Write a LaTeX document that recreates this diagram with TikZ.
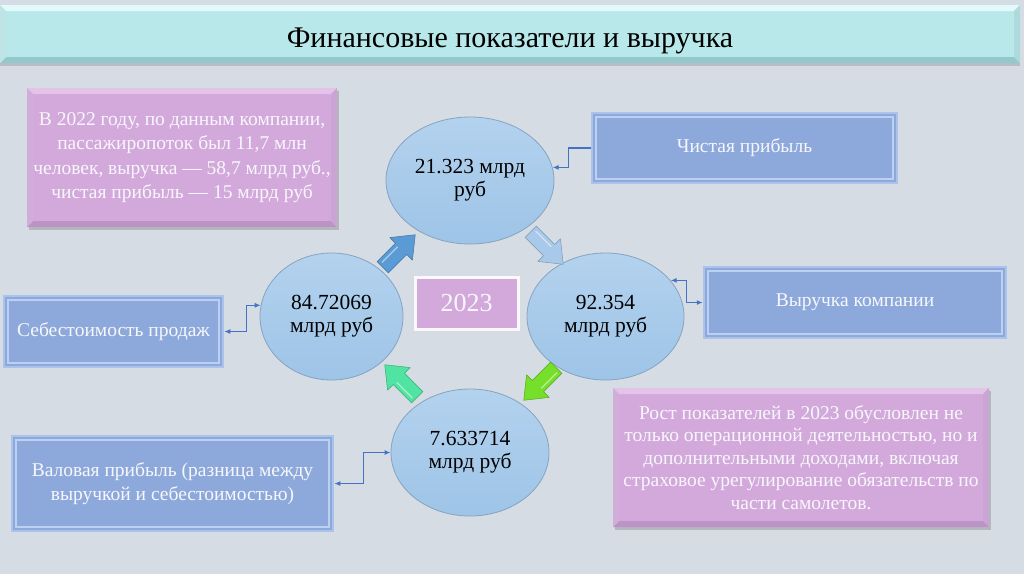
\documentclass[tikz,border=0pt]{standalone}
\usepackage{fontspec}
\setmainfont{Liberation Serif}
\usetikzlibrary{shapes.geometric,arrows.meta,shadows,calc}
\definecolor{bgc}{HTML}{D6DCE4}
\definecolor{titlec}{HTML}{B9E8EA}
\definecolor{titlelight}{HTML}{E2FAFA}
\definecolor{titledark}{HTML}{93C9CD}
\definecolor{pinkc}{HTML}{D3A9DC}
\definecolor{pinklight}{HTML}{E3C3EA}
\definecolor{pinkdark}{HTML}{BC93C5}
\definecolor{blueboxc}{HTML}{8DA9DB}
\definecolor{blueframe}{HTML}{ABC3EC}
\definecolor{blueinner}{HTML}{BCD0F1}
\definecolor{circc}{HTML}{9EC4E7}
\definecolor{circlight}{HTML}{B3D2EE}
\definecolor{circedge}{HTML}{86A3C0}
\definecolor{connc}{HTML}{4472C4}
\definecolor{arrblue}{HTML}{5B9BD5}
\definecolor{arrlight}{HTML}{A8C9E9}
\definecolor{arrgreen}{HTML}{76DF2A}
\definecolor{arrteal}{HTML}{50E3A2}
\definecolor{whitetext}{HTML}{F7F7FB}
\begin{document}
\begin{tikzpicture}[x=1pt,y=-1pt,
  bevel/.style n args={3}{path picture={
    \path (path picture bounding box.north west) coordinate (bvA)
          (path picture bounding box.north east) coordinate (bvB)
          (path picture bounding box.south east) coordinate (bvC)
          (path picture bounding box.south west) coordinate (bvD);
    \fill[#2] (bvA) -- (bvB) -- ([shift={(-#1pt,-#1pt)}]bvB) -- ([shift={(#1pt,-#1pt)}]bvA) -- cycle;
    \fill[#3] (bvD) -- (bvC) -- ([shift={(-#1pt,#1pt)}]bvC) -- ([shift={(#1pt,#1pt)}]bvD) -- cycle;
    \fill[#2!55!#3] (bvA) -- (bvD) -- ([shift={(#1pt,#1pt)}]bvD) -- ([shift={(#1pt,-#1pt)}]bvA) -- cycle;
    \fill[#2!35!#3] (bvB) -- (bvC) -- ([shift={(-#1pt,#1pt)}]bvC) -- ([shift={(-#1pt,-#1pt)}]bvB) -- cycle;
  }},
  innerframe/.style={path picture={
    \draw[blueinner,line width=1.6pt]
      ([shift={(4pt,-4pt)}]path picture bounding box.north west) rectangle
      ([shift={(-4pt,4pt)}]path picture bounding box.south east);
  }},
  titlebar/.style={rectangle, fill=titlec, minimum width=1020pt, minimum height=58pt,
    inner sep=0pt, font=\fontsize{30}{33}\selectfont, text=black,
    text height=27pt, text depth=0pt,
    bevel={6}{titlelight}{titledark},
    drop shadow={shadow xshift=0pt, shadow yshift=-3pt, opacity=0.25, fill=black!60}},
  pinkbox/.style={rectangle, fill=pinkc, inner sep=0pt, align=center, text=whitetext,
    bevel={6}{pinklight}{pinkdark},
    drop shadow={shadow xshift=2pt, shadow yshift=-3pt, opacity=0.3, fill=black!60}},
  bluebox/.style={rectangle, fill=blueboxc, draw=blueframe, line width=2.5pt, inner sep=0pt,
    align=center, text=whitetext, font=\fontsize{19.5}{24}\selectfont, innerframe},
  circnode/.style={ellipse, top color=circlight, bottom color=circc, draw=circedge,
    line width=0.8pt, inner sep=0pt, align=center, text=black,
    font=\fontsize{21.5}{23}\selectfont},
  yearbox/.style={rectangle, fill=pinkc, draw=white!92!pinkc, line width=3pt, inner sep=0pt,
    text=whitetext, font=\fontsize{26}{28}\selectfont,
    drop shadow={shadow xshift=1pt, shadow yshift=-2pt, opacity=0.25, fill=black!60}},
  conn/.style={draw=connc, line width=1.2pt},
  tipd/.style={-{Latex[length=6pt,width=5pt]}},
  tipdd/.style={{Latex[length=6pt,width=5pt]}-{Latex[length=6pt,width=5pt]}},
  pics/blockarr/.style={code={
    \fill[#1, draw=#1!75!black, line width=0.5pt, line join=round]
      (-23,-8) -- (3,-8) -- (3,-16) -- (23,0) -- (3,16) -- (3,8) -- (-23,8) -- cycle;
    \draw[white, opacity=0.45, line width=1.5pt] (-20,-4) -- (2,-4);
  }}
]
\fill[bgc] (0,0) rectangle (1024,574);
\useasboundingbox (0,0) rectangle (1024,574);

% title
\node[titlebar] (title) at (510,34) {Финансовые показатели и выручка};

% circles
\node[circnode, minimum width=168pt, minimum height=127pt] (ctop) at (470,180.5) {21.323 млрд\\руб};
\node[circnode, minimum width=157pt, minimum height=127pt] (cright) at (605.5,316.5) {92.354\\млрд руб};
\node[circnode, minimum width=143pt, minimum height=127pt] (cleft) at (331.5,316.5) {84.72069\\млрд руб};
\node[circnode, minimum width=158pt, minimum height=127pt] (cbot) at (470,452.5) {7.633714\\млрд руб};

% centre year box
\node[yearbox, minimum width=103pt, minimum height=52pt] (year) at (466.5,303) {2023};

% block arrows
\pic[rotate=45] at (399,251) {blockarr=arrblue};
\pic[rotate=-45] at (547,248) {blockarr=arrlight};
\pic[rotate=-135] at (540,384) {blockarr=arrgreen};
\pic[rotate=135] at (401,381) {blockarr=arrteal};

% pink text boxes
\node[pinkbox, minimum width=310pt, minimum height=139pt, font=\fontsize{19.5}{24.5}\selectfont]
  (note22) at (182,157.5)
  {В 2022 году, по данным компании,\\пассажиропоток был 11,7 млн\\человек, выручка — 58,7 млрд руб.,\\чистая прибыль — 15 млрд руб};
\node[pinkbox, minimum width=376pt, minimum height=139pt, font=\fontsize{19.5}{22.5}\selectfont]
  (note23) at (801,457.5)
  {Рост показателей в 2023 обусловлен не\\только операционной деятельностью, но и\\дополнительными доходами, включая\\страховое урегулирование обязательств по\\части самолетов.};

% blue label boxes
\node[bluebox, minimum width=305pt, minimum height=70pt] (chist) at (744.5,148) {Чистая прибыль};
\node[bluebox, minimum width=302pt, minimum height=71pt] (vyr) at (855,302.5) {Выручка компании};
\node[bluebox, minimum width=219pt, minimum height=71pt] (seb) at (113.5,331.5) {Себестоимость продаж};
\node[bluebox, minimum width=321pt, minimum height=95pt] (val) at (172.5,483.5) {Валовая прибыль (разница между\\выручкой и себестоимостью)};

% connectors
\draw[conn, tipd] (chist.west) -- ++(-22,0) |- (ctop.9);
\draw[conn, tipdd] (cright.29) -| ($(vyr.west)+(-16pt,0pt)$) -- (vyr.west);
\draw[conn, tipdd] (seb.east) -- ++(22,0) |- (cleft.171);
\draw[conn, tipdd] (val.east) -- ++(29,0) |- (cbot.west);
\end{tikzpicture}
\end{document}
